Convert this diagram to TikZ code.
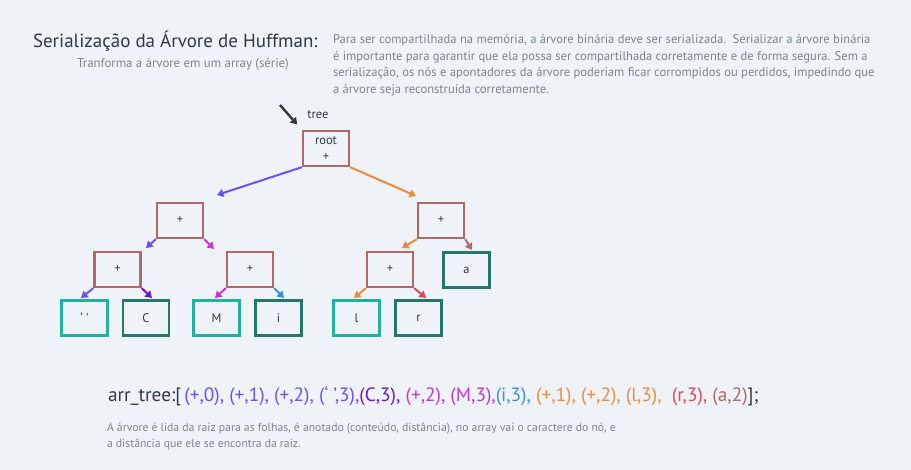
\documentclass[tikz,border=0pt]{standalone}
\usepackage{fontspec}
\setmainfont{PT Sans}
\usepackage{xcolor}
\usetikzlibrary{arrows.meta}

\definecolor{bg}{HTML}{EFF3F7}
\definecolor{ink}{HTML}{2D3A45}
\definecolor{mute}{HTML}{7A8591}
\definecolor{rose}{HTML}{B06868}
\definecolor{deepteal}{HTML}{23786A}
\definecolor{liteteal}{HTML}{22B0A0}
\definecolor{violet}{HTML}{6A50F5}
\definecolor{orng}{HTML}{EE8A3C}
\definecolor{magen}{HTML}{C535D4}
\definecolor{purp}{HTML}{6A16C4}
\definecolor{skyb}{HTML}{3491E0}
\definecolor{crim}{HTML}{E0445E}

\begin{document}
\begin{tikzpicture}[x=1pt,y=-1pt,->,>={Triangle[length=6.5pt,width=8pt]},
            line width=2pt]
        \tikzstyle{every node}=[text=ink,font=\fontsize{12.5}{14}\selectfont]
        \tikzstyle{inner}=[draw=rose,line width=2.4pt,minimum width=46pt,
            minimum height=35pt,inner sep=0pt]
        \tikzstyle{leafA}=[inner,draw=liteteal]
        \tikzstyle{leafB}=[inner,draw=deepteal]

        \fill[bg] (0,0) rectangle (911,470);

        % titulo e textos
        \node[anchor=base west,inner sep=0pt,font=\fontsize{19}{21}\selectfont] (title) at (32,48)
            {Serialização da Árvore de Huffman:};
        \node[anchor=base,inner sep=0pt,text=mute,font=\fontsize{12.8}{14}\selectfont] (subtitle) at (183,67.5)
            {Tranforma a árvore em um array (série)};
        \node[anchor=north west,align=left,text=mute,inner sep=0pt,
            font=\fontsize{12.6}{16.7}\selectfont] (about) at (332,33.5)
            {Para ser compartilhada na memória, a árvore binária deve ser serializada.\ \ Serializar a árvore binária\\
             é importante para garantir que ela possa ser compartilhada corretamente e de forma segura. Sem a\\
             serialização, os nós e apontadores da árvore poderiam ficar corrompidos ou perdidos, impedindo que\\
             a árvore seja reconstruída corretamente.};

        % arvore
        \node[inner,align=center] (root) at (326,148.5) {root\\[2pt]+};
        \node[inner] (nL) at (180,220.5) {+};
        \node[inner] (nR) at (441,220.5) {+};
        \node[inner] (nLL) at (117.5,269.5) {+};
        \node[inner] (nLR) at (250,269.5) {+};
        \node[inner] (nRL) at (390,269.5) {+};
        \node[leafB] (la) at (466.5,270) {a};
        \node[leafA] (lsp) at (84.5,318) {‘ ’};
        \node[leafB] (lC) at (146,318) {C};
        \node[leafA] (lM) at (216.5,318) {M};
        \node[leafB] (li) at (278.5,318) {i};
        \node[leafA] (ll) at (356.5,318) {l};
        \node[leafB] (lr) at (418.5,318) {r};

        \node (treelbl) at (318,115) {tree};
        \coordinate (treetail) at (280,105);
        \draw[ink,line width=2.4pt,shorten >=7pt] (treetail) -- (root.north west);

        \coordinate (tL) at (217,195);
        \coordinate (tR) at (416,196);
        \coordinate (tLL) at (146,248);
        \coordinate (tLR) at (214,249);
        \coordinate (tRL) at (402,248);
        \coordinate (tRR) at (472,250);
        \coordinate (tsp) at (81,298);
        \coordinate (tC) at (152,298);
        \coordinate (tM) at (215,298);
        \coordinate (ti) at (284,298);
        \coordinate (tl) at (354,298);
        \coordinate (tr) at (426,298);

        \path (root.south west) edge[violet] (tL);
        \path (root.south east) edge[orng] (tR);
        \path (nL.south west) edge[violet] (tLL);
        \path (nL.south east) edge[magen] (tLR);
        \path (nR.south west) edge[orng] (tRL);
        \path (nR.south east) edge[rose] (tRR);
        \path (nLL.south west) edge[violet] (tsp);
        \path (nLL.south east) edge[purp] (tC);
        \path (nLR.south west) edge[magen] (tM);
        \path (nLR.south east) edge[skyb] (ti);
        \path (nRL.south west) edge[orng] (tl);
        \path (nRL.south east) edge[crim] (tr);

        % array serializado
        \node[anchor=base west,inner sep=0pt,font=\fontsize{19.3}{21}\selectfont] (arr) at (107,401.5)
            {arr\_tree:[\,\textcolor{violet}{(+,0), (+,1), (+,2), (‘ ’,3),}\textcolor{purp}{(C,3),}
             \textcolor{magen}{(+,2), (M,3),}\textcolor{skyb}{(i,3),}
             \textcolor{orng}{(+,1), (+,2), (l,3),}\ \ \textcolor{crim}{(r,3),}
             \textcolor{rose}{(a,2)}];};
        \node[anchor=north west,align=left,text=mute,inner sep=0pt,
            font=\fontsize{11.7}{16.7}\selectfont] (note) at (106,421.5)
            {A árvore é lida da raiz para as folhas, é anotado (conteúdo, distância), no array vai o caractere do nó, e\\
             a distância que ele se encontra da raiz.};
    \end{tikzpicture}
\end{document}
